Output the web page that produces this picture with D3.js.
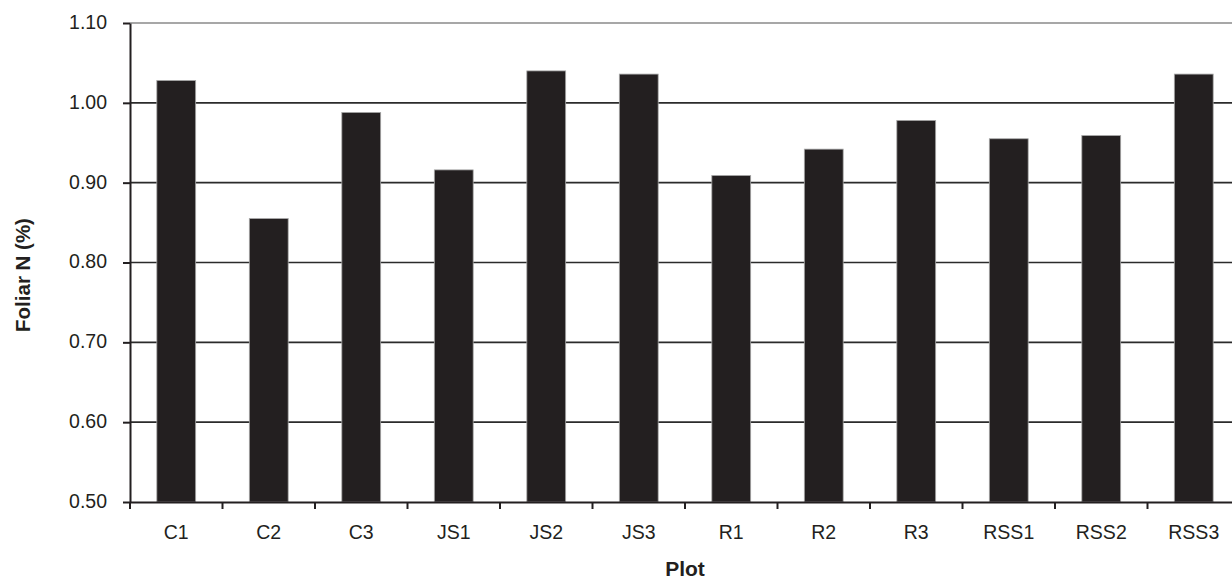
<!DOCTYPE html>
<html>
<head>
<meta charset="utf-8">
<script src="https://cdn.jsdelivr.net/npm/d3@7"></script>
<style>
  html, body { margin: 0; padding: 0; background: #fff; }
  svg { display: block; }
  text { font-family: "Liberation Sans", Arial, sans-serif; fill: #231f20; }
</style>
</head>
<body>
<svg id="chart" width="1232" height="580"></svg>
<script>
const categories = ["C1","C2","C3","JS1","JS2","JS3","R1","R2","R3","RSS1","RSS2","RSS3"];
const foliarN = [1.028, 0.855, 0.988, 0.916, 1.040, 1.036, 0.909, 0.942, 0.978, 0.955, 0.959, 1.036];
const yTicks = [0.50, 0.60, 0.70, 0.80, 0.90, 1.00, 1.10];
const yTitle = "Foliar N (%)";
const xTitle = "Plot";

(function () {
const svg = d3.select("#chart");
const plotLeft = 130, plotRight = 1240, plotTop = 23, plotBottom = 502;

const x = d3.scaleBand().domain(categories).range([plotLeft, plotRight])
  .paddingInner(0.58).paddingOuter(0.29);
const y = d3.scaleLinear().domain([0.5, 1.1]).range([plotBottom, plotTop]);

// gridlines
svg.append("g").selectAll("line").data(yTicks.slice(1)).join("line")
  .attr("x1", plotLeft).attr("x2", 1232)
  .attr("y1", d => y(d)).attr("y2", d => y(d))
  .attr("stroke", (d, i, a) => i === a.length - 1 ? "#8a8a8a" : "#2b2b2b")
  .attr("stroke-width", 1.6);

// bars
svg.append("g").selectAll("rect").data(foliarN).join("rect")
  .attr("x", (d, i) => x(categories[i]))
  .attr("width", x.bandwidth())
  .attr("y", d => y(d))
  .attr("height", d => y(0.5) - y(d))
  .attr("fill", "#231f20")
  .attr("stroke", "#a8a8a8")
  .attr("stroke-width", 0.8);

// y axis
const yAxis = svg.append("g").attr("transform", `translate(${plotLeft},0)`)
  .call(d3.axisLeft(y).tickValues(yTicks).tickFormat(d3.format(".2f"))
    .tickSize(7).tickSizeOuter(0).tickPadding(16));
yAxis.select(".domain").attr("stroke", "#231f20").attr("stroke-width", 2);
yAxis.selectAll(".tick line").attr("stroke", "#231f20").attr("stroke-width", 2);
yAxis.selectAll(".tick text").attr("font-size", "19.5px")
  .attr("font-family", "'Liberation Sans', Arial, sans-serif")
  .attr("fill", "#231f20").attr("dy", "0.28em");

// x axis
const xAxis = svg.append("g").attr("transform", `translate(0,${plotBottom})`)
  .call(d3.axisBottom(x).tickSize(0).tickSizeOuter(0).tickPadding(23));
xAxis.select(".domain").attr("stroke", "#231f20").attr("stroke-width", 2);
xAxis.selectAll(".tick text").attr("font-size", "19.5px")
  .attr("font-family", "'Liberation Sans', Arial, sans-serif")
  .attr("fill", "#231f20");
// category boundary ticks
const bounds = d3.range(categories.length + 1).map(i => plotLeft + i * x.step());
xAxis.append("g").selectAll("line").data(bounds).join("line")
  .attr("x1", d => d).attr("x2", d => d)
  .attr("y1", 0).attr("y2", 7)
  .attr("stroke", "#231f20").attr("stroke-width", 2);

// titles
svg.append("text")
  .attr("transform", `translate(22,275) rotate(-90)`)
  .attr("text-anchor", "middle").attr("dominant-baseline", "central")
  .attr("font-size", "20.5px").attr("font-weight", "bold")
  .text(yTitle);
svg.append("text")
  .attr("x", (plotLeft + plotRight) / 2).attr("y", 576)
  .attr("text-anchor", "middle")
  .attr("font-size", "21px").attr("font-weight", "bold")
  .text(xTitle);
})();
</script>
</body>
</html>
